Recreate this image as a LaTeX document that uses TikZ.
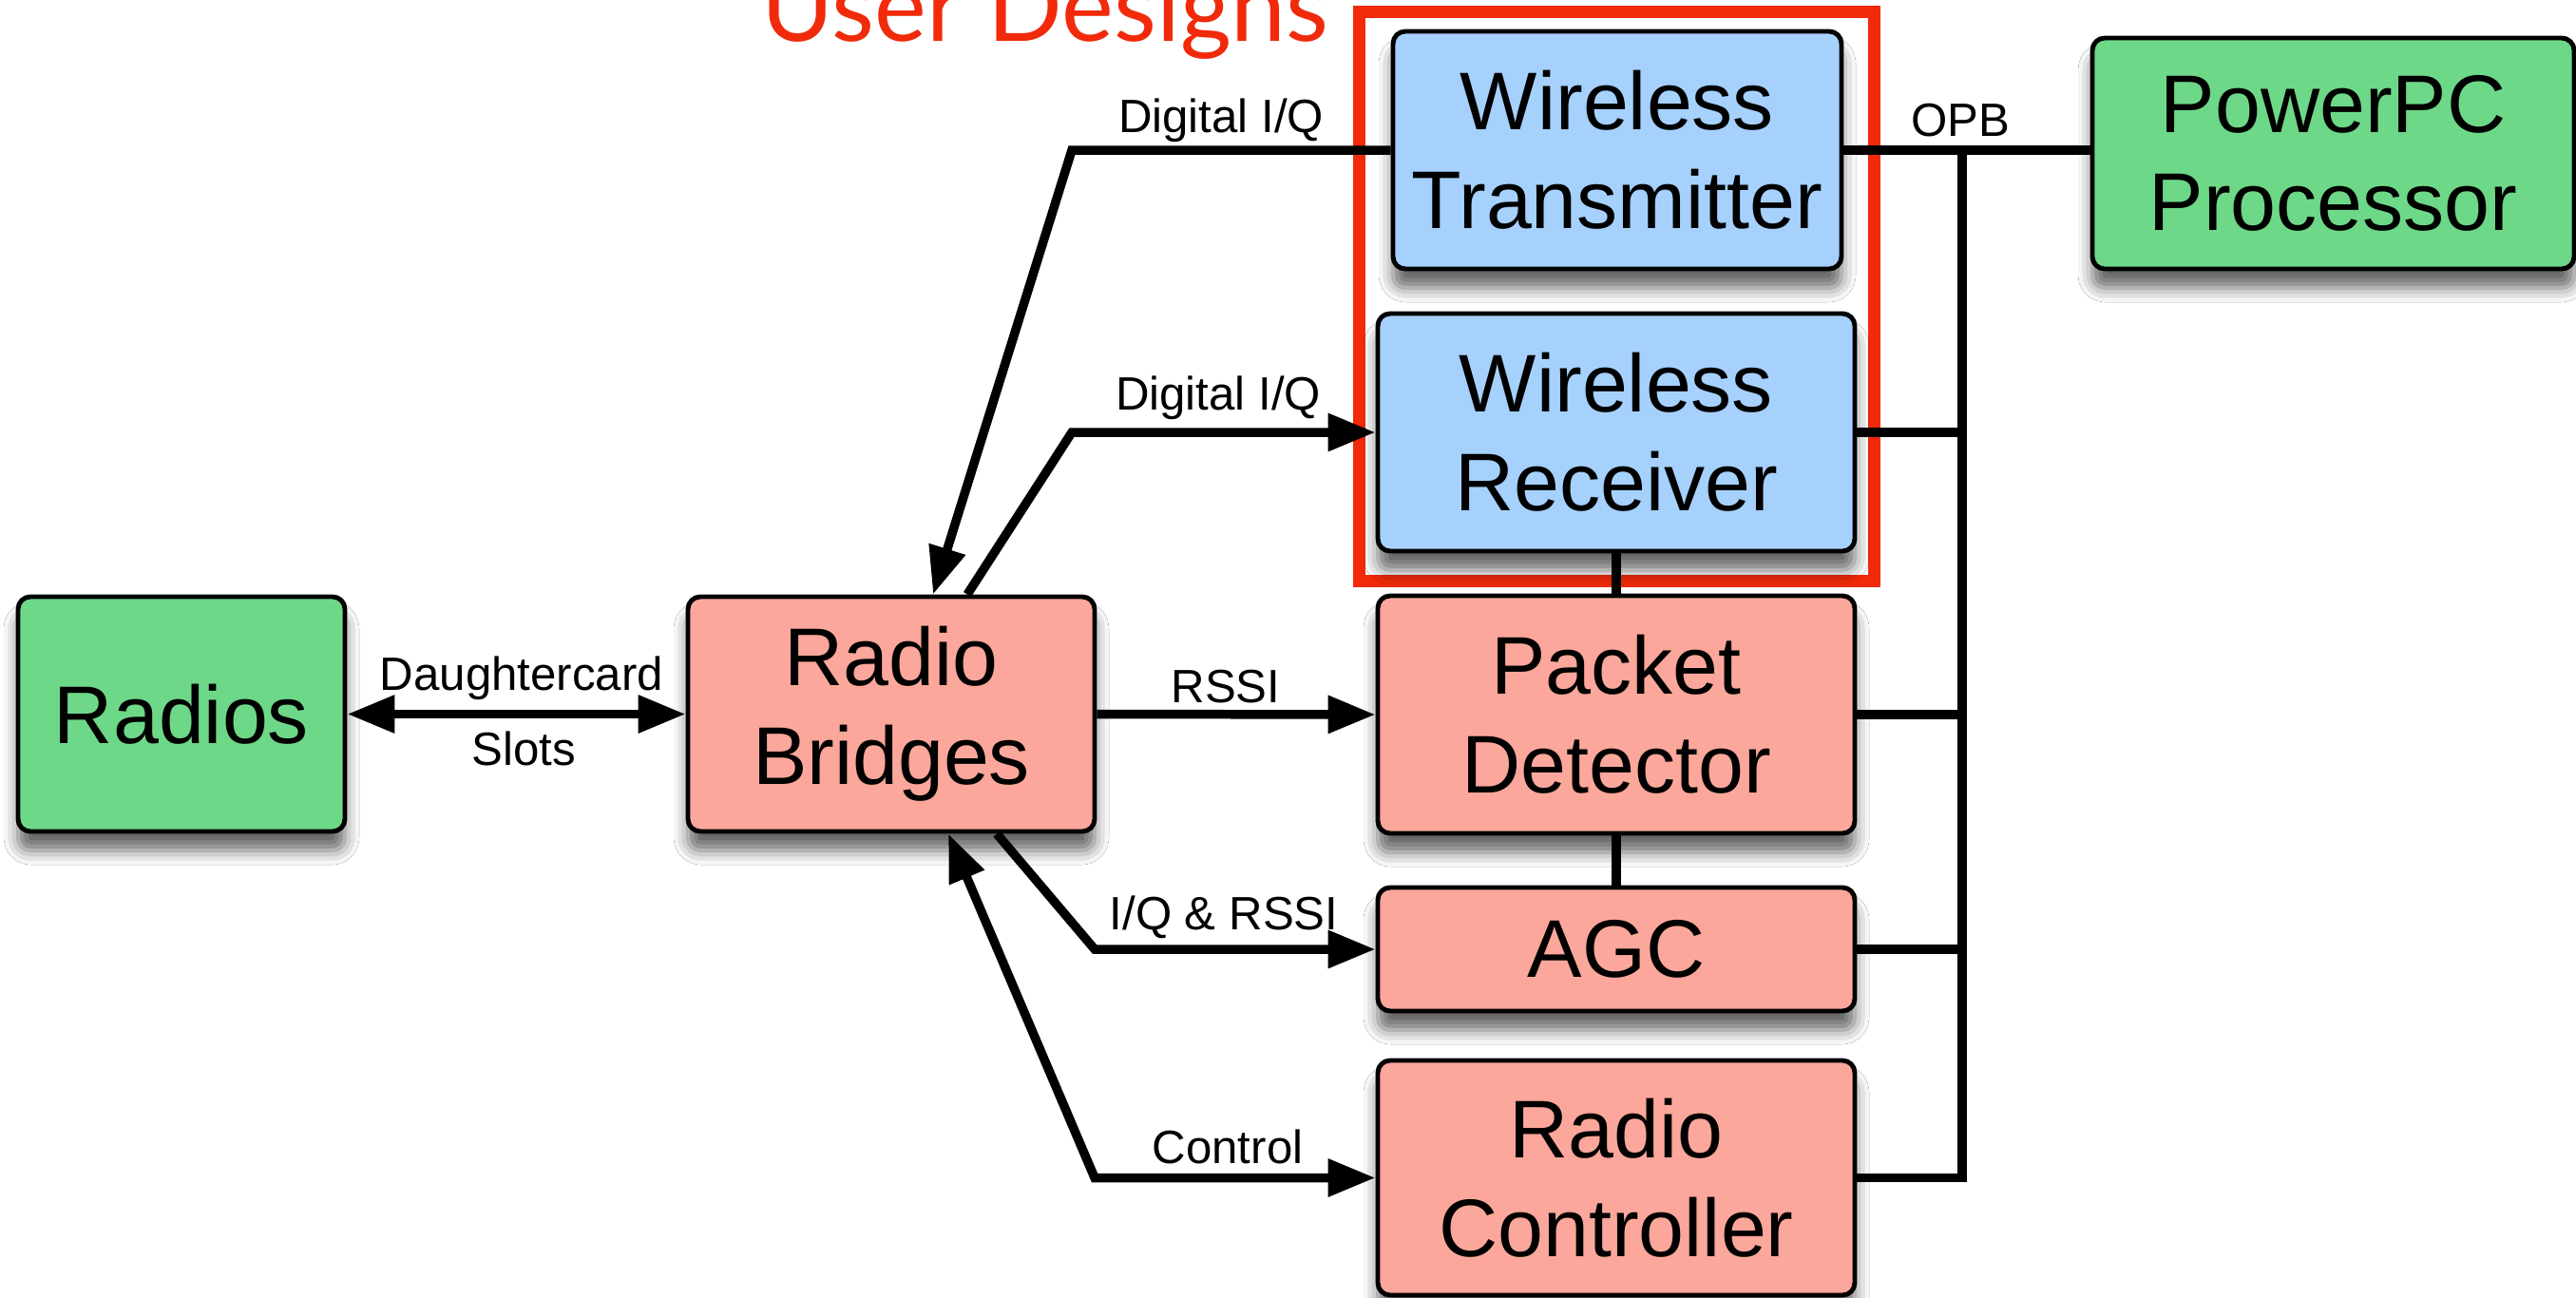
\documentclass[tikz,border=0pt]{standalone}
\usepackage{fontspec}
\setmainfont{Liberation Sans}
\newfontfamily\titlefont{Lato}
\usetikzlibrary{arrows.meta,shadows.blur}
\definecolor{boxgreen}{RGB}{110,216,137}
\definecolor{boxpink}{RGB}{252,167,155}
\definecolor{boxblue}{RGB}{166,209,253}
\definecolor{framered}{RGB}{240,42,10}
\tikzset{
  block/.style={draw=black, line width=1.4pt, rounded corners=0.13cm, align=center,
    inner sep=0pt, font=\fontsize{24.5}{29.5}\selectfont,
    blur shadow={shadow xshift=0pt, shadow yshift=-0.2cm, shadow blur radius=0.15cm, shadow opacity=60}},
  wire/.style={line width=2.7pt},
  tip/.style={-{Triangle[length=0.5cm,width=0.38cm]}},
  lbl/.style={anchor=base, font=\fontsize{14}{16}\selectfont},
}
\begin{document}
\begin{tikzpicture}
\useasboundingbox[fill=white] (0,0) rectangle (27.11,-13.65);

\coordinate (txbend) at (11.28,0);
\coordinate (lowbend) at (11.52,0);
\coordinate (bus) at (20.65,0);

\node[draw=framered, line width=3.7pt, minimum width=5.42cm, minimum height=5.99cm, inner sep=0pt] (userframe) at (17.01,-3.115) {};
\node[anchor=base, text=framered, font=\titlefont\fontsize{29.5}{30}\selectfont] (title) at (11.0,-0.43) {User Designs};

\node[block, fill=boxgreen, minimum width=3.44cm, minimum height=2.47cm] (radios) at (1.91,-7.515) {Radios};
\node[block, fill=boxpink, minimum width=4.28cm, minimum height=2.47cm] (bridges) at (9.38,-7.515) {Radio\\Bridges};
\node[block, fill=boxblue, minimum width=4.72cm, minimum height=2.50cm] (tx) at (17.02,-1.58) {Wireless\\Transmitter};
\node[block, fill=boxblue, minimum width=5.02cm, minimum height=2.50cm] (rx) at (17.01,-4.55) {Wireless\\Receiver};
\node[block, fill=boxgreen, minimum width=5.07cm, minimum height=2.43cm] (ppc) at (24.555,-1.615) {PowerPC\\Processor};
\node[block, fill=boxpink, minimum width=5.02cm, minimum height=2.50cm] (pd) at (17.01,-7.52) {Packet\\Detector};
\node[block, fill=boxpink, minimum width=5.02cm, minimum height=1.30cm] (agc) at (17.01,-9.99) {AGC};
\node[block, fill=boxpink, minimum width=5.02cm, minimum height=2.47cm] (ctrl) at (17.01,-12.395) {Radio\\Controller};

\draw[wire, tip] (tx.west) -- (tx.west -| txbend) -- ([xshift=4.4mm]bridges.north);
\draw[wire, tip] ([xshift=8mm]bridges.north) -- (rx.west -| txbend) -- (rx.west);
\draw[wire, tip] (bridges.east) -- (pd.west);
\draw[wire, tip] ([xshift=11.1mm]bridges.south) -- (agc.west -| lowbend) -- (agc.west);
\draw[wire, {Triangle[length=0.5cm,width=0.38cm]}-{Triangle[length=0.5cm,width=0.38cm]}] ([xshift=6mm]bridges.south) -- (ctrl.west -| lowbend) -- (ctrl.west);
\draw[wire, {Triangle[length=0.5cm,width=0.38cm]}-{Triangle[length=0.5cm,width=0.38cm]}] (radios.east) -- (bridges.west);

\draw[wire] (tx.east) -- (tx.east -| ppc.west);
\draw[wire] (tx.east -| bus) -- (ctrl.east -| bus) -- (ctrl.east);
\draw[wire] (rx.east) -- (rx.east -| bus);
\draw[wire] (pd.east) -- (pd.east -| bus);
\draw[wire] (agc.east) -- (agc.east -| bus);
\draw[wire] (rx.south) -- (pd.north);
\draw[wire] (pd.south) -- (agc.north);

\node[lbl] (lbltx) at (12.85,-1.39) {Digital I/Q};
\node[lbl] (lblrx) at (12.82,-4.31) {Digital I/Q};
\node[lbl] (lblrssi) at (12.90,-7.39) {RSSI};
\node[lbl] (lbliq) at (12.88,-9.78) {I/Q \& RSSI};
\node[lbl] (lblctrl) at (12.92,-12.24) {Control};
\node[lbl] (lblopb) at (20.63,-1.43) {OPB};
\node[lbl] (lbldc) at (5.49,-7.26) {Daughtercard};
\node[lbl] (lblslots) at (5.51,-8.05) {Slots};
\end{tikzpicture}
\end{document}
